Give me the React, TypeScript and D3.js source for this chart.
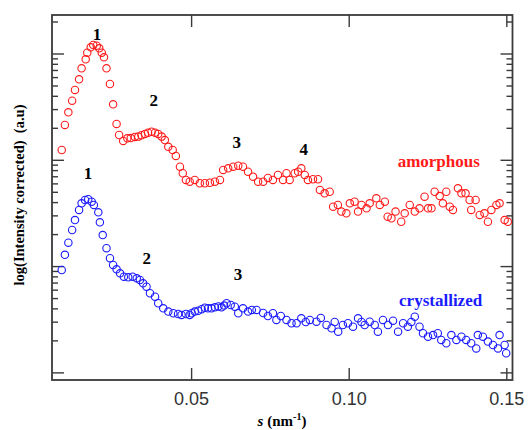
import React from 'react';
import * as d3 from 'd3';

// amorphous sample (red)
const amorphousS = [
  0.0088, 0.0098, 0.0109, 0.0121, 0.0130, 0.0143, 0.0151, 0.0164, 0.0169, 0.0180,
  0.0188, 0.0199, 0.0207, 0.0215, 0.0222, 0.0230, 0.0241, 0.0251, 0.0262, 0.0270,
  0.0283, 0.0296, 0.0307, 0.0320, 0.0331, 0.0341, 0.0352, 0.0362, 0.0373, 0.0384,
  0.0394, 0.0405, 0.0415, 0.0426, 0.0440, 0.0450, 0.0463, 0.0472, 0.0482, 0.0494,
  0.0510, 0.0526, 0.0542, 0.0558, 0.0574, 0.0590, 0.0600, 0.0616, 0.0632, 0.0648,
  0.0663, 0.0679, 0.0695, 0.0711, 0.0727, 0.0742, 0.0758, 0.0774, 0.0790, 0.0801,
  0.0811, 0.0827, 0.0838, 0.0848, 0.0859, 0.0869, 0.0885, 0.0901, 0.0907, 0.0922,
  0.0938, 0.0949, 0.0964, 0.0975, 0.0991, 0.1002, 0.1017, 0.1028, 0.1039, 0.1055,
  0.1065, 0.1086, 0.1097, 0.1113, 0.1122, 0.1134, 0.1147, 0.1165, 0.1176, 0.1192,
  0.1208, 0.1223, 0.1239, 0.1250, 0.1261, 0.1271, 0.1287, 0.1297, 0.1308, 0.1319,
  0.1329, 0.1345, 0.1356, 0.1369, 0.1382, 0.1387, 0.1401, 0.1414, 0.1429, 0.1440,
  0.1451, 0.1467, 0.1477, 0.1493, 0.1503,
];
const amorphousI = [
  125, 215, 283, 364, 459, 578, 734, 891, 1029, 1156,
  1215, 1197, 1131, 1029, 931, 734, 522, 336, 220, 173,
  152, 161, 162, 166, 167, 172, 177, 182, 186, 182,
  177, 167, 155, 134, 125, 110, 87.1, 75.5, 65.3, 62.9,
  65.3, 60.8, 60.8, 61.5, 62.9, 65.3, 81.1, 84.1, 87.1, 89.0,
  87.1, 78.1, 70.1, 62.9, 62.9, 68.2, 65.3, 72.7, 65.3, 75.5,
  65.3, 75.5, 78.1, 84.1, 72.7, 65.3, 66.3, 66.3, 52.6, 48.9,
  50.6, 36.6, 38.0, 32.9, 31.7, 39.4, 40.8, 32.9, 38.0, 35.3,
  39.4, 43.9, 38.0, 40.8, 29.5, 28.5, 32.9, 26.4, 31.7, 38.0,
  32.9, 35.3, 45.5, 35.3, 35.3, 50.6, 46.1, 39.4, 50.6, 36.6,
  34.1, 54.5, 48.9, 48.9, 42.3, 34.1, 42.3, 30.6, 31.7, 26.4,
  34.1, 38.0, 39.4, 27.4, 26.4,
];

// crystallized sample (blue)
const crystallizedS = [
  0.0088, 0.0098, 0.0109, 0.0121, 0.0130, 0.0143, 0.0151, 0.0162, 0.0172, 0.0183,
  0.0190, 0.0204, 0.0209, 0.0218, 0.0230, 0.0241, 0.0251, 0.0262, 0.0273, 0.0285,
  0.0299, 0.0313, 0.0326, 0.0336, 0.0346, 0.0357, 0.0368, 0.0384, 0.0394, 0.0410,
  0.0426, 0.0442, 0.0457, 0.0468, 0.0482, 0.0494, 0.0500, 0.0510, 0.0521, 0.0532,
  0.0542, 0.0552, 0.0563, 0.0574, 0.0585, 0.0595, 0.0603, 0.0611, 0.0624, 0.0637,
  0.0648, 0.0663, 0.0679, 0.0691, 0.0706, 0.0727, 0.0742, 0.0758, 0.0769, 0.0783,
  0.0801, 0.0817, 0.0833, 0.0848, 0.0862, 0.0875, 0.0896, 0.0910, 0.0928, 0.0944,
  0.0954, 0.0965, 0.0980, 0.0996, 0.1012, 0.1028, 0.1039, 0.1049, 0.1065, 0.1081,
  0.1091, 0.1107, 0.1123, 0.1139, 0.1155, 0.1171, 0.1186, 0.1197, 0.1208, 0.1223,
  0.1234, 0.1250, 0.1266, 0.1281, 0.1292, 0.1308, 0.1324, 0.1340, 0.1356, 0.1371,
  0.1387, 0.1403, 0.1408, 0.1424, 0.1440, 0.1456, 0.1472, 0.1477, 0.1493, 0.1498,
];
const crystallizedI = [
  9.29, 12.9, 16.8, 22.1, 27.4, 34.1, 39.4, 42.3, 43.0, 40.8,
  38.0, 32.4, 26.1, 19.8, 14.9, 12.0, 10.35, 9.43, 8.65, 8.04,
  7.93, 8.04, 7.76, 7.48, 6.96, 6.47, 5.61, 5.21, 4.52, 4.05,
  3.77, 3.64, 3.58, 3.51, 3.58, 3.51, 3.64, 3.77, 3.84, 3.97,
  4.10, 4.05, 4.05, 4.14, 4.22, 4.14, 4.30, 4.52, 4.35, 4.20,
  3.64, 4.05, 3.77, 3.91, 3.91, 3.66, 3.43, 3.64, 3.15, 3.43,
  3.15, 2.93, 2.93, 3.26, 3.01, 3.15, 3.03, 3.29, 2.82, 2.63,
  3.01, 2.44, 2.82, 2.93, 2.72, 3.26, 3.01, 2.82, 3.03, 2.82,
  2.44, 3.15, 2.82, 3.10, 2.44, 2.93, 2.72, 3.01, 3.38, 2.72,
  2.36, 2.19, 2.27, 2.36, 2.04, 1.90, 2.27, 2.04, 2.19, 2.04,
  1.90, 1.70, 2.27, 2.19, 1.97, 1.83, 1.70, 2.27, 1.83, 1.53,
];

const xTickValues = [0.05, 0.1, 0.15];
const xTickLabels = ['0.05', '0.10', '0.15'];

const amorphousPeakLabels = ['1', '2', '3', '4'];
const amorphousPeakS = [0.02, 0.038, 0.0643, 0.0856];
const amorphousPeakI = [1355, 324, 131, 112];
const crystallizedPeakLabels = ['1', '2', '3'];
const crystallizedPeakS = [0.0171, 0.0358, 0.0647];
const crystallizedPeakI = [66.7, 10.6, 7.48];

const seriesNames = ['amorphous', 'crystallized'];
const seriesLabelS = [0.1284, 0.129];
const seriesLabelI = [86.5, 4.26];

const RED = '#ff1a1a';
const BLUE = '#1a1aff';
const AXIS = '#3a3a3a';
const SERIF = '"Liberation Serif", "Times New Roman", serif';

export default function App() {
  const left = 52, right = 512.5, top = 15, bottom = 380;

  const x = d3.scaleLinear().domain([0.00571, 0.1518]).range([left, right]);
  const y = d3.scaleLog().domain([0.857, 2328]).range([bottom, top]);

  const yTicks = y.ticks().filter((t) => t >= 1);
  const isMajor = (t: number) => Math.abs(Math.log10(t) - Math.round(Math.log10(t))) < 1e-6;

  const red = d3.zip(amorphousS, amorphousI);
  const blue = d3.zip(crystallizedS, crystallizedI);

  return (
    <svg width={530} height={430} style={{ position: 'absolute', left: 0, top: 0, background: '#fff' }}>
      {/* y ticks on both sides */}
      {yTicks.map((t, i) => {
        const len = isMajor(t) ? 12 : 6;
        const yy = y(t);
        return (
          <g key={'yt' + i} stroke={AXIS} strokeWidth={1.4}>
            <line x1={left} x2={left + len} y1={yy} y2={yy} />
            <line x1={right} x2={right - len} y1={yy} y2={yy} />
          </g>
        );
      })}
      {/* x ticks bottom and top */}
      {xTickValues.map((t, i) => (
        <g key={'xt' + i}>
          <line x1={x(t)} x2={x(t)} y1={bottom} y2={bottom - 12} stroke={AXIS} strokeWidth={1.4} />
          <line x1={x(t)} x2={x(t)} y1={top} y2={top + 12} stroke={AXIS} strokeWidth={1.4} />
          <text x={x(t)} y={405} textAnchor="middle" fontFamily='"Liberation Sans", Arial, sans-serif'
            fontSize={18} fill="#333">{xTickLabels[i]}</text>
        </g>
      ))}
      <rect x={left} y={top} width={right - left} height={bottom - top} fill="none" stroke={AXIS} strokeWidth={1.8} />

      {red.map((d, i) => (
        <circle key={'r' + i} cx={x(d[0])} cy={y(d[1])} r={3.7} fill="none" stroke={RED} strokeWidth={1.1} />
      ))}
      {blue.map((d, i) => (
        <circle key={'b' + i} cx={x(d[0])} cy={y(d[1])} r={3.7} fill="none" stroke={BLUE} strokeWidth={1.1} />
      ))}

      {amorphousPeakLabels.map((l, i) => (
        <text key={'ap' + i} x={x(amorphousPeakS[i])} y={y(amorphousPeakI[i])} textAnchor="middle"
          fontFamily={SERIF} fontWeight="bold" fontSize={17} fill="#000">{l}</text>
      ))}
      {crystallizedPeakLabels.map((l, i) => (
        <text key={'cp' + i} x={x(crystallizedPeakS[i])} y={y(crystallizedPeakI[i])} textAnchor="middle"
          fontFamily={SERIF} fontWeight="bold" fontSize={17} fill="#000">{l}</text>
      ))}
      {seriesNames.map((n, i) => (
        <text key={'sn' + i} x={x(seriesLabelS[i])} y={y(seriesLabelI[i])} textAnchor="middle"
          fontFamily={SERIF} fontWeight="bold" fontSize={17} fill={i === 0 ? RED : BLUE}>{n}</text>
      ))}

      {/* axis titles */}
      <text x={282} y={426} textAnchor="middle" fontFamily={SERIF} fontWeight="bold" fontSize={15} fill="#000">
        <tspan fontStyle="italic">s</tspan>
        <tspan> (nm</tspan>
        <tspan dy={-6} fontSize={10}>-1</tspan>
        <tspan dy={6}>)</tspan>
      </text>
      <text transform="translate(24,195) rotate(-90)" textAnchor="middle" fontFamily={SERIF} fontWeight="bold"
        fontSize={14.5} fill="#000" style={{ whiteSpace: 'pre' }}>
        log(Intensity corrected)  (a.u)
      </text>
    </svg>
  );
}
